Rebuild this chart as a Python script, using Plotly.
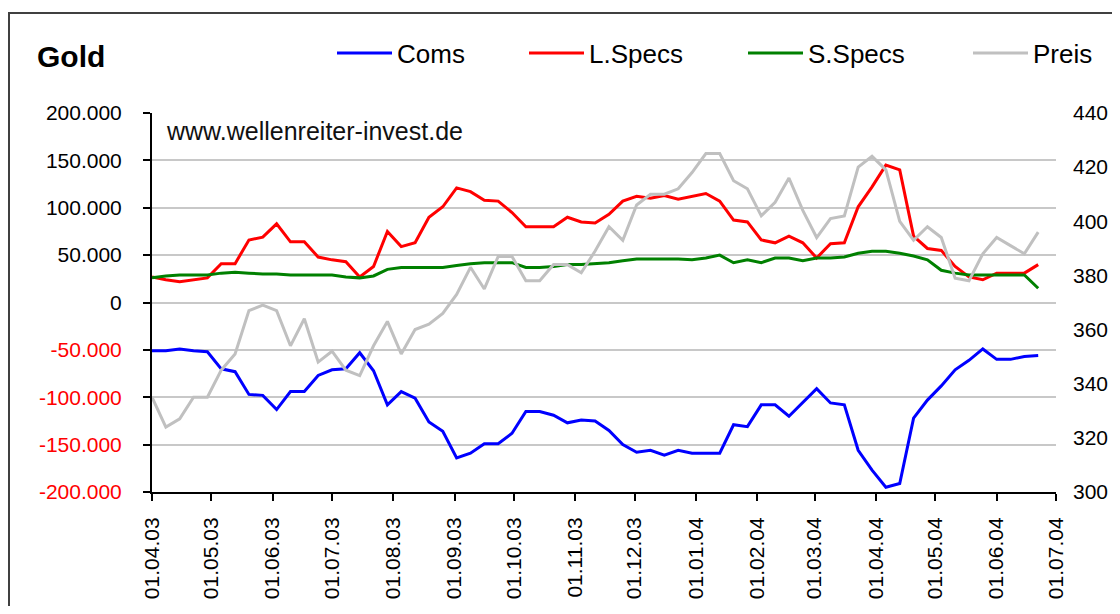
import pandas as pd
import plotly.graph_objects as go

# ---- data (weekly, Tuesdays, starting 01.04.2003) ----
dates = pd.date_range("2003-04-01", periods=65, freq="7D")

coms = [-51, -51, -49, -51, -52, -70, -73, -97, -98, -113,
        -94, -94, -77, -71, -70, -53, -72, -108, -94, -101,
        -126, -136, -164, -159, -149, -149, -138, -115, -115, -119,
        -127, -124, -125, -135, -150, -158, -156, -161, -156, -159,
        -159, -159, -129, -131, -108, -108, -120, -105, -91, -106,
        -108, -156, -177, -195, -191, -122, -103, -88, -71, -61,
        -49, -60, -60, -57, -56]
lspecs = [27, 24, 22, 24, 26, 41, 41, 66, 69, 83,
          64, 64, 48, 45, 43, 27, 38, 75, 59, 63,
          90, 101, 121, 117, 108, 107, 95, 80, 80, 80,
          90, 85, 84, 93, 107, 112, 110, 113, 109, 112,
          115, 107, 87, 85, 66, 63, 70, 63, 47, 62,
          63, 101, 122, 145, 140, 70, 57, 55, 38, 27,
          24, 31, 31, 31, 40]
sspecs = [26, 28, 29, 29, 29, 31, 32, 31, 30, 30,
          29, 29, 29, 29, 27, 26, 28, 35, 37, 37,
          37, 37, 39, 41, 42, 42, 42, 37, 37, 38,
          40, 40, 41, 42, 44, 46, 46, 46, 46, 45,
          47, 50, 42, 45, 42, 47, 47, 44, 47, 47,
          48, 52, 54, 54, 52, 49, 45, 34, 31, 29,
          29, 29, 29, 29, 15]
preis = [335, 324, 327, 335, 335, 345, 351, 367, 369, 367,
         354, 364, 348, 352, 345, 343, 354, 363, 351, 360,
         362, 366, 373, 383, 375, 387, 387, 378, 378, 384,
         384, 381, 389, 398, 393, 406, 410, 410, 412, 418,
         425, 425, 415, 412, 402, 407, 416, 404, 394, 401,
         402, 420, 424, 419, 400, 393, 398, 394, 379, 378,
         388, 394, 391, 388, 396]

left_tickvals = [200000, 150000, 100000, 50000, 0, -50000, -100000, -150000, -200000]
left_ticktext = ["200.000", "150.000", "100.000", "50.000", "0",
                 "-50.000", "-100.000", "-150.000", "-200.000"]
right_tickvals = [300, 320, 340, 360, 380, 400, 420, 440]

series_names = ["Coms", "L.Specs", "S.Specs", "Preis"]
title_text = "Gold"
watermark = "www.wellenreiter-invest.de"

# ---- layout geometry ----
# The page body has an 8px margin, so the figure is drawn 8px in from the
# window's top-left corner; sizes below are chosen so the figure fits the window.
OFF = 8
W, H = 1120 - 2 * OFF, 614 - 2 * OFF
PLOT_LEFT, PLOT_RIGHT, PLOT_TOP, PLOT_BOTTOM = 152, 1056, 113, 492  # window px
L = PLOT_LEFT - OFF
R = W - (PLOT_RIGHT - OFF)
T = PLOT_TOP - OFF
B = H - (PLOT_BOTTOM - OFF)
PW, PH = W - L - R, H - T - B


def px_x(px):  # window px -> paper x
    return (px - OFF - L) / PW


def px_y(py):  # window px -> paper y
    return (H - B - (py - OFF)) / PH


FONT = "Liberation Sans, Arial, sans-serif"

colors = {"Coms": "#0000FF", "L.Specs": "#FF0000", "S.Specs": "#008000", "Preis": "#C0C0C0"}
values = {"Coms": [v * 1000 for v in coms], "L.Specs": [v * 1000 for v in lspecs],
          "S.Specs": [v * 1000 for v in sspecs], "Preis": preis}
legend_ids = {"Coms": "legend", "L.Specs": "legend2", "S.Specs": "legend3", "Preis": "legend4"}
legend_px = {"Coms": 332, "L.Specs": 524, "S.Specs": 743, "Preis": 968}

fig = go.Figure()
for name in series_names:
    fig.add_trace(go.Scatter(
        x=dates, y=values[name], name=name, mode="lines",
        line=dict(color=colors[name], width=3),
        yaxis="y2" if name == "Preis" else "y",
        legend=legend_ids[name],
        hoverinfo="x+y+name",
    ))

styled_left = [t if not t.startswith("-") else f"<span style='color:#FF0000'>{t}</span>"
               for t in left_ticktext]

legend_common = dict(orientation="h", xanchor="left", yanchor="middle",
                     y=px_y(53), bgcolor="rgba(0,0,0,0)", itemwidth=55,
                     font=dict(family=FONT, size=26, color="#000"))
layout_legends = {}
for name in series_names:
    layout_legends[legend_ids[name]] = dict(legend_common, x=px_x(legend_px[name]))

fig.update_layout(
    width=W, height=H,
    margin=dict(l=L, r=R, t=T, b=B, autoexpand=False),
    paper_bgcolor="white", plot_bgcolor="white",
    font=dict(family=FONT, size=21, color="#000"),
    showlegend=True,
    xaxis=dict(
        type="date",
        range=["2003-04-01", "2004-07-01"],
        tick0="2003-04-01", dtick="M1", tickformat="%d.%m.%y",
        tickangle=-90, ticks="outside", ticklen=7, tickwidth=1.5, tickcolor="#000",
        showline=True, linecolor="#000", linewidth=2,
        showgrid=False, zeroline=False,
        tickfont=dict(family=FONT, size=21, color="#000"),
        ticklabelstandoff=8,
    ),
    yaxis=dict(
        range=[-200000, 200000],
        tickvals=left_tickvals, ticktext=styled_left,
        ticks="outside", ticklen=7, tickwidth=1.5, tickcolor="#000",
        showline=True, linecolor="#000", linewidth=2,
        showgrid=True, gridcolor="#C8C8C8", gridwidth=2,
        zeroline=False,
        tickfont=dict(family=FONT, size=21, color="#000"),
        ticklabelstandoff=17,
    ),
    yaxis2=dict(
        range=[300, 440], tickvals=right_tickvals,
        overlaying="y", side="right", showgrid=False, zeroline=False,
        showline=False, ticks="",
        tickfont=dict(family=FONT, size=21, color="#000"),
        ticklabelstandoff=16,
    ),
    **layout_legends,
    annotations=[
        dict(text=f"<b>{title_text}</b>", xref="paper", yref="paper",
             x=px_x(35), y=px_y(57), xanchor="left", yanchor="middle",
             showarrow=False, font=dict(family=FONT, size=30, color="#000")),
        dict(text=watermark, xref="paper", yref="paper",
             x=px_x(164), y=px_y(131), xanchor="left", yanchor="middle",
             showarrow=False, font=dict(family=FONT, size=25, color="#111")),
    ],
    shapes=[
        dict(type="rect", xref="paper", yref="paper",
             x0=px_x(9), x1=px_x(1140), y0=px_y(660), y1=px_y(13),
             line=dict(color="#404040", width=2), fillcolor="rgba(0,0,0,0)",
             layer="above"),
    ],
)

fig.write_html("out.html")
